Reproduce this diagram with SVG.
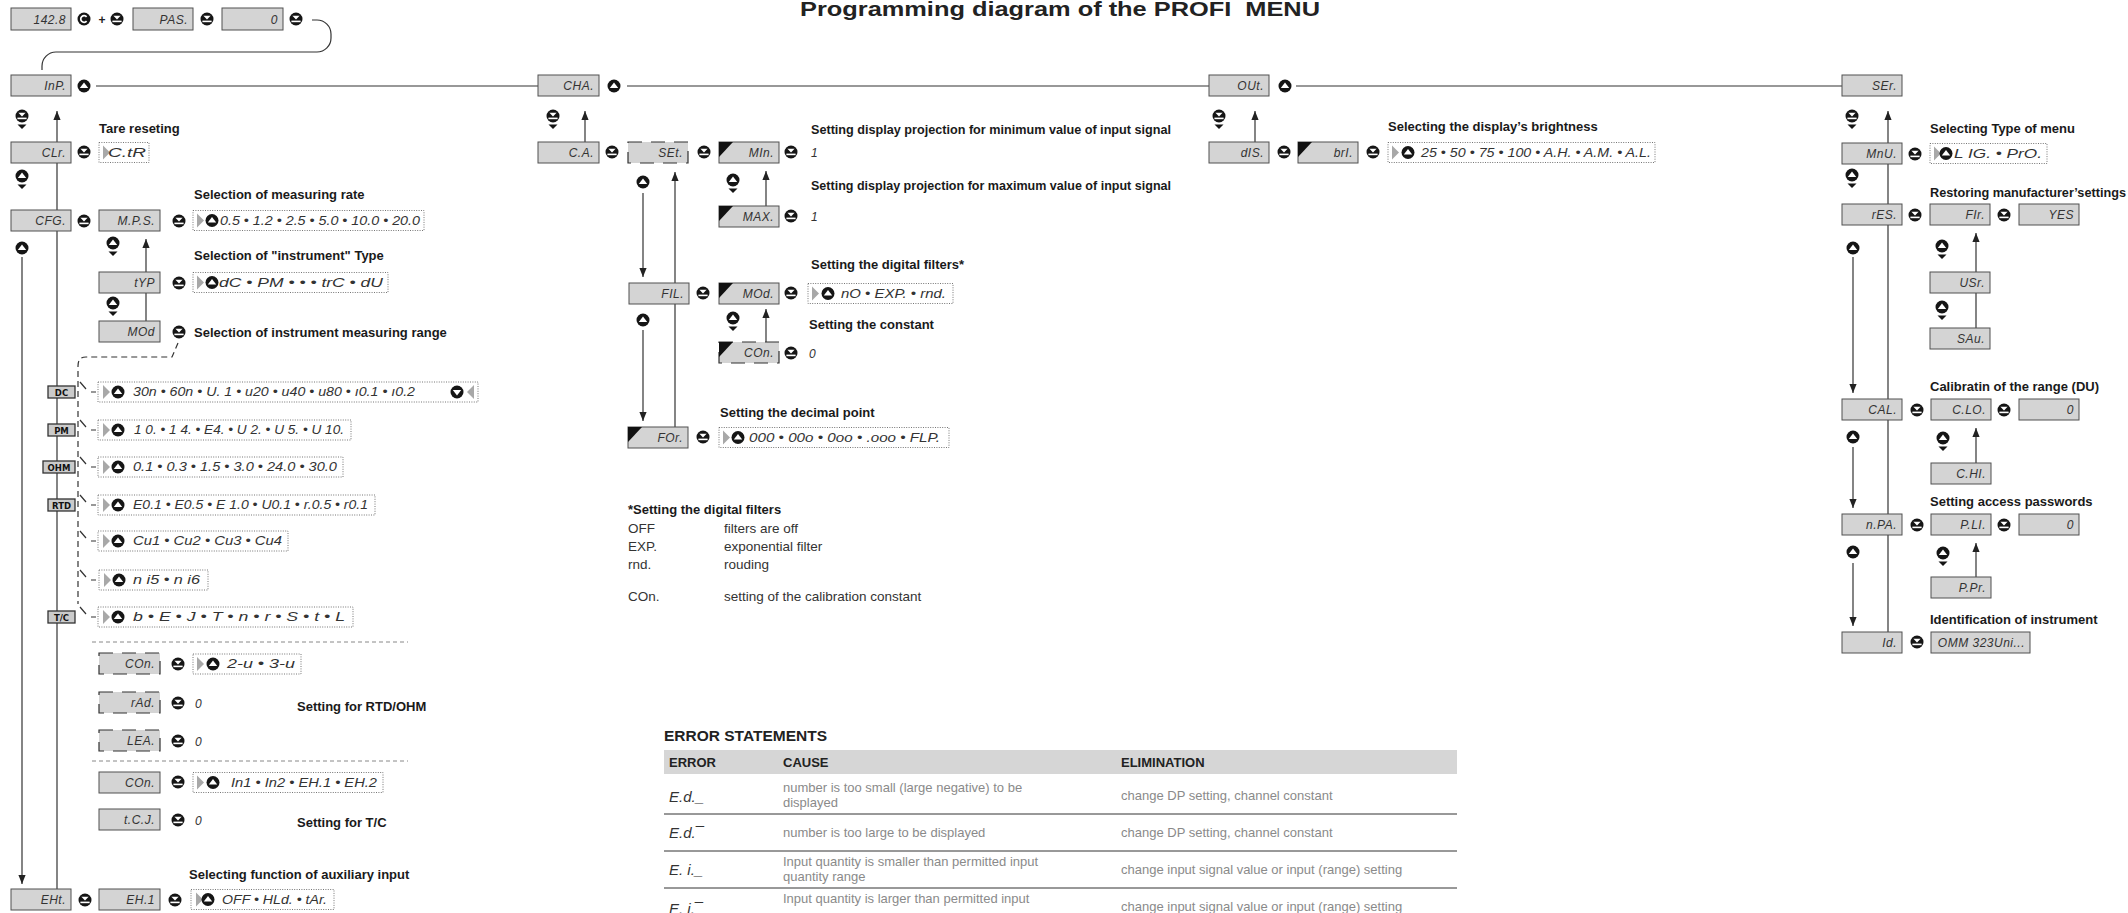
<svg xmlns="http://www.w3.org/2000/svg" xmlns:xlink="http://www.w3.org/1999/xlink" width="2128" height="913" viewBox="0 0 2128 913">
<style>
.bx{fill:#d4d4d4;stroke:#505050;stroke-width:1}
.dx{fill:#d4d4d4;stroke:#303030;stroke-width:1.2;stroke-dasharray:14 9}
.op{fill:#fff;stroke:#666;stroke-width:0.9;stroke-dasharray:1 1.4}
.sg{font-family:"Liberation Sans",Arial,sans-serif;font-style:italic;font-size:12px;fill:#333;text-anchor:end;letter-spacing:0.5px}
.ot{font-family:"Liberation Sans",Arial,sans-serif;font-style:italic;font-size:12px;fill:#333}
.lb{font-family:"Liberation Sans",Arial,sans-serif;font-weight:bold;font-size:13px;fill:#1a1a1a}
.nt{font-family:"Liberation Sans",Arial,sans-serif;font-size:13.5px;fill:#333}
.ln{stroke:#333;stroke-width:1.2;fill:none}
.dl{stroke:#333;stroke-width:1.2;fill:none;stroke-dasharray:6 4}
.sep{stroke:#888;stroke-width:1;stroke-dasharray:4 3;fill:none}
.tg{fill:#cbcbcb;stroke:#333;stroke-width:1.3}
.tgt{font-family:"DejaVu Sans",sans-serif;font-weight:bold;font-size:8.5px;fill:#111;text-anchor:middle}
.th{font-family:"Liberation Sans",Arial,sans-serif;font-weight:bold;font-size:13px;fill:#222}
.td{font-family:"Liberation Sans",Arial,sans-serif;font-size:13px;fill:#8a8a8a}
.ec{font-family:"Liberation Sans",Arial,sans-serif;font-style:italic;font-size:15px;fill:#333}
</style>
<defs>
<marker id="ar" viewBox="0 0 10 10" refX="10" refY="5" markerWidth="9" markerHeight="9" markerUnits="userSpaceOnUse" orient="auto"><path d="M0,1 L10,5 L0,9 z" fill="#222"/></marker>
<g id="up"><circle r="6.5" fill="#151515"/><path d="M0,-3.4 L4.2,1.9 L-4.2,1.9 Z" fill="#fff"/></g>
<g id="ent"><circle r="6.5" fill="#151515"/><path d="M-3.6,-3.2 L3.6,-3.2 L0,0.6 Z" fill="#fff"/><rect x="-4.6" y="1.6" width="9.2" height="1.6" fill="#fff"/></g>
<g id="dn"><circle r="6.5" fill="#151515"/><path d="M-4.2,-1.9 L4.2,-1.9 L0,3.4 Z" fill="#fff"/></g>
<g id="upA"><use href="#up"/><path d="M-4.5,8.5 L4.5,8.5 L0,13 Z" fill="#151515"/></g>
<g id="entA"><use href="#ent"/><path d="M-4.5,8.5 L4.5,8.5 L0,13 Z" fill="#151515"/></g>
<g id="ring"><circle r="6.5" fill="#151515"/><path d="M2.6,-2.1 A3.3,3.3 0 1 0 2.6,2.1" stroke="#fff" stroke-width="1.7" fill="none"/></g>
<path id="gt" d="M0,-7 L7,0 L0,7 Z" fill="#a8a8a8"/>
<path id="cn" d="M0,0 H14 L0,15 Z" fill="#111"/>
</defs>
<rect width="2128" height="913" fill="#fff"/>

<text x="1060" y="16" text-anchor="middle" xml:space="preserve" style="font-family:'Liberation Sans',Arial,sans-serif;font-weight:bold;font-size:21px;fill:#222" textLength="520" lengthAdjust="spacingAndGlyphs">Programming diagram of the PROFI  MENU</text>

<g id="connectors">
<path class="ln" d="M312,20 H317 A14,14 0 0 1 331,34 V38 A14,14 0 0 1 317,52 H56 A14,14 0 0 0 42,66 V70"/>
<path class="ln" d="M96,86 H538"/>
<path class="ln" d="M627,86 H1209"/>
<path class="ln" d="M1296,86 H1842"/>
<path class="ln" d="M57,889 V111" marker-end="url(#ar)"/>
<path class="ln" d="M22,257 V884" marker-end="url(#ar)"/>
<path class="ln" d="M146,321 V239" marker-end="url(#ar)"/>
<path class="dl" d="M178,343 L172,357 H86 Q78,357 78,366 V604"/>
<path class="ln" d="M80,382 L86,389 M91,392 H96"/>
<path class="ln" d="M80,420 L86,427 M91,430 H96"/>
<path class="ln" d="M80,457 L86,464 M91,467 H96"/>
<path class="ln" d="M80,495 L86,502 M91,505 H96"/>
<path class="ln" d="M80,531 L86,538 M91,541 H96"/>
<path class="ln" d="M80,570 L86,577 M91,580 H96"/>
<path class="ln" d="M80,607 L86,614 M91,617 H96"/>
<path class="sep" d="M92,642 H408"/>
<path class="sep" d="M92,761 H408"/>
<path class="ln" d="M585,142 V111" marker-end="url(#ar)"/>
<path class="ln" d="M643,193 V277" marker-end="url(#ar)"/>
<path class="ln" d="M643,330 V421" marker-end="url(#ar)"/>
<path class="ln" d="M675,427 V172" marker-end="url(#ar)"/>
<path class="ln" d="M766,206 V171" marker-end="url(#ar)"/>
<path class="ln" d="M766,342 V309" marker-end="url(#ar)"/>
<path class="ln" d="M1255,142 V111" marker-end="url(#ar)"/>
<path class="ln" d="M1888,632 V111" marker-end="url(#ar)"/>
<path class="ln" d="M1853,257 V393" marker-end="url(#ar)"/>
<path class="ln" d="M1853,447 V508" marker-end="url(#ar)"/>
<path class="ln" d="M1853,563 V626" marker-end="url(#ar)"/>
<path class="ln" d="M1976,328 V233" marker-end="url(#ar)"/>
<path class="ln" d="M1976,463 V428" marker-end="url(#ar)"/>
<path class="ln" d="M1976,577 V543" marker-end="url(#ar)"/>
</g>

<!-- top entry -->
<g id="n-init"><rect class="bx" x="11" y="8" width="60" height="22"/><text class="sg" x="66" y="23.5">142.8</text></g>
<g id="b-combo"><use href="#ring" x="84" y="19"/><text x="102" y="23.5" text-anchor="middle" style="font-family:'Liberation Sans',sans-serif;font-weight:bold;font-size:12px;fill:#222">+</text><use href="#ent" x="117" y="19"/></g>
<g id="n-pas"><rect class="bx" x="133" y="8" width="60" height="22"/><text class="sg" x="188" y="23.5">PAS.</text><use href="#ent" x="207" y="19"/></g>
<g id="n-pw"><rect class="bx" x="222" y="8" width="61" height="22"/><text class="sg" x="278" y="23.5">0</text><use href="#ent" x="296" y="19"/></g>

<!-- main row -->
<g id="n-inp"><rect class="bx" x="11" y="75" width="60" height="21"/><text class="sg" x="66" y="90">InP.</text><use href="#up" x="84" y="86"/></g>
<g id="n-cha"><rect class="bx" x="538" y="75" width="61" height="21"/><text class="sg" x="594" y="90">CHA.</text><use href="#up" x="614" y="86"/></g>
<g id="n-out"><rect class="bx" x="1209" y="75" width="60" height="21"/><text class="sg" x="1264" y="90">OUt.</text><use href="#up" x="1285" y="86"/></g>
<g id="n-ser"><rect class="bx" x="1842" y="75" width="60" height="21"/><text class="sg" x="1897" y="90">SEr.</text></g>

<!-- INP column -->
<use href="#entA" x="22" y="116"/>
<text class="lb" x="99" y="133">Tare reseting</text>
<g id="n-clr"><rect class="bx" x="11" y="142" width="60" height="21"/><text class="sg" x="66" y="157">CLr.</text><use href="#ent" x="84" y="152"/></g>
<g id="o-ctr"><rect class="op" x="99" y="142.5" width="50" height="20"/><use href="#gt" x="103" y="152.5"/><text class="ot" x="108" y="157" textLength="38" lengthAdjust="spacingAndGlyphs">C.tR</text></g>
<use href="#upA" x="22" y="176"/>
<text class="lb" x="194" y="199">Selection of measuring rate</text>
<g id="n-cfg"><rect class="bx" x="11" y="210" width="60" height="21"/><text class="sg" x="66" y="225">CFG.</text><use href="#ent" x="84" y="221"/></g>
<g id="n-mps"><rect class="bx" x="99" y="210" width="61" height="21"/><text class="sg" x="155" y="225">M.P.S.</text><use href="#ent" x="179" y="221"/></g>
<g id="o-mps"><rect class="op" x="193" y="210.5" width="231" height="20"/><use href="#gt" x="197" y="220.5"/><use href="#up" x="212" y="220.5"/><text class="ot" x="220" y="225" textLength="200" lengthAdjust="spacingAndGlyphs">0.5 • 1.2 • 2.5 • 5.0 • 10.0 • 20.0</text></g>
<use href="#up" x="22" y="248"/>
<use href="#upA" x="113" y="243"/>
<text class="lb" x="194" y="260">Selection of "instrument" Type</text>
<g id="n-typ"><rect class="bx" x="99" y="272" width="61" height="21"/><text class="sg" x="155" y="287">tYP</text><use href="#ent" x="179" y="283"/></g>
<g id="o-typ"><rect class="op" x="193" y="272.5" width="195" height="20"/><use href="#gt" x="197" y="282.5"/><use href="#up" x="212" y="282.5"/><text class="ot" x="219" y="287" textLength="164" lengthAdjust="spacingAndGlyphs">dC • PM • • • trC • dU</text></g>
<use href="#upA" x="113" y="303"/>
<g id="n-mod"><rect class="bx" x="99" y="321" width="61" height="21"/><text class="sg" x="155" y="336">MOd</text><use href="#ent" x="179" y="332"/></g>
<text class="lb" x="194" y="337">Selection of instrument measuring range</text>

<g id="r-dc"><rect class="tg" x="48" y="386" width="27" height="12"/><text class="tgt" x="61.5" y="395.5">DC</text><rect class="op" x="98" y="382" width="380" height="20"/><use href="#gt" x="103" y="392"/><use href="#up" x="118" y="392"/><text class="ot" x="133" y="396" textLength="282" lengthAdjust="spacingAndGlyphs">30n • 60n • U. 1 • u20 • u40 • u80 • ı0.1 • ı0.2</text><use href="#dn" x="457" y="392"/><path d="M474,385 L467,392 L474,399 Z" fill="#a8a8a8"/></g>
<g id="r-pm"><rect class="tg" x="48" y="424" width="27" height="12"/><text class="tgt" x="61.5" y="433.5">PM</text><rect class="op" x="98" y="420" width="253" height="20"/><use href="#gt" x="103" y="430"/><use href="#up" x="118" y="430"/><text class="ot" x="134" y="434" textLength="210" lengthAdjust="spacingAndGlyphs">1 0. • 1 4. • E4. • U 2. • U 5. • U 10.</text></g>
<g id="r-ohm"><rect class="tg" x="43" y="461" width="32" height="12"/><text class="tgt" x="59" y="470.5">OHM</text><rect class="op" x="98" y="457" width="245" height="20"/><use href="#gt" x="103" y="467"/><use href="#up" x="118" y="467"/><text class="ot" x="133" y="471" textLength="204" lengthAdjust="spacingAndGlyphs">0.1 • 0.3 • 1.5 • 3.0 • 24.0 • 30.0</text></g>
<g id="r-rtd"><rect class="tg" x="48" y="499" width="27" height="12"/><text class="tgt" x="61.5" y="508.5">RTD</text><rect class="op" x="98" y="495" width="277" height="20"/><use href="#gt" x="103" y="505"/><use href="#up" x="118" y="505"/><text class="ot" x="133" y="509" textLength="235" lengthAdjust="spacingAndGlyphs">E0.1 • E0.5 • E 1.0 • U0.1 • r.0.5 • r0.1</text></g>
<g id="r-cu"><rect class="op" x="98" y="531" width="190" height="20"/><use href="#gt" x="103" y="541"/><use href="#up" x="118" y="541"/><text class="ot" x="133" y="545" textLength="149" lengthAdjust="spacingAndGlyphs">Cu1 • Cu2 • Cu3 • Cu4</text></g>
<g id="r-ni"><rect class="op" x="99" y="570" width="109" height="20"/><use href="#gt" x="104" y="580"/><use href="#up" x="119" y="580"/><text class="ot" x="133" y="584" textLength="67" lengthAdjust="spacingAndGlyphs">n i5 • n i6</text></g>
<g id="r-tc"><rect class="tg" x="48" y="611" width="27" height="12"/><text class="tgt" x="61.5" y="620.5">T/C</text><rect class="op" x="98" y="607" width="255" height="20"/><use href="#gt" x="103" y="617"/><use href="#up" x="118" y="617"/><text class="ot" x="133" y="621" textLength="212" lengthAdjust="spacingAndGlyphs">b • E • J • T • n • r • S • t • L</text></g>

<g id="n-con1"><rect class="dx" x="99" y="653" width="61" height="21"/><text class="sg" x="155" y="668">COn.</text><use href="#ent" x="178" y="664"/></g>
<g id="o-con1"><rect class="op" x="193" y="654" width="108" height="20"/><use href="#gt" x="197" y="664"/><use href="#up" x="213" y="664"/><text class="ot" x="227" y="668" textLength="68" lengthAdjust="spacingAndGlyphs">2-u • 3-u</text></g>
<g id="n-rad"><rect class="dx" x="99" y="692" width="61" height="21"/><text class="sg" x="155" y="707">rAd.</text><use href="#ent" x="178" y="703"/><text class="ot" x="195" y="708">0</text></g>
<text class="lb" x="297" y="711">Setting for RTD/OHM</text>
<g id="n-lea"><rect class="dx" x="99" y="730" width="61" height="21"/><text class="sg" x="155" y="745">LEA.</text><use href="#ent" x="178" y="741"/><text class="ot" x="195" y="746">0</text></g>
<g id="n-con2"><rect class="bx" x="99" y="772" width="61" height="21"/><text class="sg" x="155" y="787">COn.</text><use href="#ent" x="178" y="782"/></g>
<g id="o-con2"><rect class="op" x="193" y="772.5" width="190" height="20"/><use href="#gt" x="197" y="782.5"/><use href="#up" x="213" y="782.5"/><text class="ot" x="231" y="787" textLength="146" lengthAdjust="spacingAndGlyphs">In1 • In2 • EH.1 • EH.2</text></g>
<g id="n-tcj"><rect class="bx" x="99" y="809" width="61" height="21"/><text class="sg" x="155" y="824">t.C.J.</text><use href="#ent" x="178" y="820"/><text class="ot" x="195" y="825">0</text></g>
<text class="lb" x="297" y="827">Setting for T/C</text>
<text class="lb" x="189" y="879">Selecting function of auxiliary input</text>
<g id="n-eht"><rect class="bx" x="11" y="889" width="60" height="21"/><text class="sg" x="66" y="904">EHt.</text><use href="#ent" x="85" y="900"/></g>
<g id="n-eh1"><rect class="bx" x="99" y="889" width="61" height="21"/><text class="sg" x="155" y="904">EH.1</text><use href="#ent" x="175" y="900"/></g>
<g id="o-eh1"><rect class="op" x="191" y="889.5" width="143" height="20"/><use href="#gt" x="196" y="899.5"/><use href="#up" x="208" y="899.5"/><text class="ot" x="222" y="904" textLength="105" lengthAdjust="spacingAndGlyphs">OFF • HLd. • tAr.</text></g>

<!-- CHA column -->
<use href="#entA" x="553" y="116"/>
<text class="lb" x="811" y="134" textLength="360" lengthAdjust="spacingAndGlyphs">Setting display projection for minimum value of input signal</text>
<g id="n-ca"><rect class="bx" x="538" y="142" width="61" height="21"/><text class="sg" x="594" y="157">C.A.</text><use href="#ent" x="612" y="152"/></g>
<g id="n-set"><rect class="dx" x="628" y="142" width="60" height="21"/><text class="sg" x="683" y="157">SEt.</text><use href="#ent" x="704" y="152"/></g>
<g id="n-min"><rect class="bx" x="719" y="142" width="60" height="21"/><use href="#cn" x="719" y="142"/><text class="sg" x="774" y="157">MIn.</text><use href="#ent" x="791" y="152"/><text class="ot" x="811" y="157">1</text></g>
<use href="#up" x="643" y="182"/>
<use href="#upA" x="733" y="180"/>
<text class="lb" x="811" y="190" textLength="360" lengthAdjust="spacingAndGlyphs">Setting display projection for maximum value of input signal</text>
<g id="n-max"><rect class="bx" x="719" y="206" width="60" height="21"/><use href="#cn" x="719" y="206"/><text class="sg" x="774" y="221">MAX.</text><use href="#ent" x="791" y="216"/><text class="ot" x="811" y="221">1</text></g>
<text class="lb" x="811" y="269">Setting the digital filters*</text>
<g id="n-fil"><rect class="bx" x="629" y="283" width="60" height="21"/><text class="sg" x="684" y="298">FIL.</text><use href="#ent" x="703" y="293"/></g>
<g id="n-fmod"><rect class="bx" x="719" y="283" width="60" height="21"/><use href="#cn" x="719" y="283"/><text class="sg" x="774" y="298">MOd.</text><use href="#ent" x="791" y="293"/></g>
<g id="o-fmod"><rect class="op" x="808" y="283.5" width="145" height="20"/><use href="#gt" x="812" y="293.5"/><use href="#up" x="828" y="293.5"/><text class="ot" x="841" y="298" textLength="105" lengthAdjust="spacingAndGlyphs">nO • EXP. • rnd.</text></g>
<use href="#up" x="643" y="320"/>
<use href="#upA" x="733" y="318"/>
<text class="lb" x="809" y="329">Setting the constant</text>
<g id="n-ccon"><rect class="dx" x="719" y="342" width="60" height="21"/><use href="#cn" x="719" y="342"/><text class="sg" x="774" y="357">COn.</text><use href="#ent" x="791" y="353"/><text class="ot" x="809" y="358">0</text></g>
<text class="lb" x="720" y="417">Setting the decimal point</text>
<g id="n-for"><rect class="bx" x="628" y="427" width="60" height="21"/><use href="#cn" x="628" y="427"/><text class="sg" x="683" y="442">FOr.</text><use href="#ent" x="703" y="437"/></g>
<g id="o-for"><rect class="op" x="719" y="427.5" width="230" height="20"/><use href="#gt" x="723" y="437.5"/><use href="#up" x="738" y="437.5"/><text class="ot" x="749" y="442" textLength="191" lengthAdjust="spacingAndGlyphs">000 • 00o • 0oo • .ooo • FLP.</text></g>

<g id="note">
<text class="lb" x="628" y="514">*Setting the digital filters</text>
<text class="nt" x="628" y="533">OFF</text><text class="nt" x="724" y="533">filters are off</text>
<text class="nt" x="628" y="551">EXP.</text><text class="nt" x="724" y="551">exponential filter</text>
<text class="nt" x="628" y="569">rnd.</text><text class="nt" x="724" y="569">rouding</text>
<text class="nt" x="628" y="601">COn.</text><text class="nt" x="724" y="601">setting of the calibration constant</text>
</g>

<!-- OUT column -->
<use href="#entA" x="1219" y="116"/>
<text class="lb" x="1388" y="131">Selecting the display’s brightness</text>
<g id="n-dis"><rect class="bx" x="1209" y="142" width="60" height="21"/><text class="sg" x="1264" y="157">dIS.</text><use href="#ent" x="1284" y="152"/></g>
<g id="n-bri"><rect class="bx" x="1298" y="142" width="60" height="21"/><use href="#cn" x="1298" y="142"/><text class="sg" x="1353" y="157">brI.</text><use href="#ent" x="1373" y="152"/></g>
<g id="o-bri"><rect class="op" x="1388" y="142.5" width="267" height="20"/><use href="#gt" x="1392" y="152.5"/><use href="#up" x="1408" y="152.5"/><text class="ot" x="1421" y="157" textLength="230" lengthAdjust="spacingAndGlyphs">25 • 50 • 75 • 100 • A.H. • A.M. • A.L.</text></g>

<!-- SER column -->
<use href="#entA" x="1852" y="116"/>
<text class="lb" x="1930" y="133">Selecting Type of menu</text>
<g id="n-mnu"><rect class="bx" x="1842" y="143" width="60" height="21"/><text class="sg" x="1897" y="158">MnU.</text><use href="#ent" x="1915" y="154"/></g>
<g id="o-mnu"><rect class="op" x="1930" y="143.5" width="117" height="20"/><use href="#gt" x="1934" y="153.5"/><use href="#up" x="1946" y="153.5"/><text class="ot" x="1954" y="158" textLength="88" lengthAdjust="spacingAndGlyphs">L IG. • PrO.</text></g>
<use href="#upA" x="1852" y="175"/>
<text class="lb" x="1930" y="197" textLength="196" lengthAdjust="spacingAndGlyphs">Restoring manufacturer’settings</text>
<g id="n-res"><rect class="bx" x="1842" y="204" width="60" height="21"/><text class="sg" x="1897" y="219">rES.</text><use href="#ent" x="1915" y="215"/></g>
<g id="n-fir"><rect class="bx" x="1930" y="204" width="60" height="21"/><text class="sg" x="1985" y="219">FIr.</text><use href="#ent" x="2004" y="215"/></g>
<g id="n-yes"><rect class="bx" x="2019" y="204" width="60" height="21"/><text class="sg" x="2074" y="219">YES</text></g>
<use href="#up" x="1853" y="248"/>
<use href="#upA" x="1942" y="246"/>
<g id="n-usr"><rect class="bx" x="1930" y="272" width="60" height="21"/><text class="sg" x="1985" y="287">USr.</text></g>
<use href="#upA" x="1942" y="307"/>
<g id="n-sav"><rect class="bx" x="1930" y="328" width="60" height="21"/><text class="sg" x="1985" y="343">SAu.</text></g>
<text class="lb" x="1930" y="391">Calibratin of the range (DU)</text>
<g id="n-cal"><rect class="bx" x="1842" y="399" width="60" height="21"/><text class="sg" x="1897" y="414">CAL.</text><use href="#ent" x="1917" y="410"/></g>
<g id="n-clo"><rect class="bx" x="1931" y="399" width="60" height="21"/><text class="sg" x="1986" y="414">C.LO.</text><use href="#ent" x="2004" y="410"/></g>
<g id="n-cal0"><rect class="bx" x="2019" y="399" width="60" height="21"/><text class="sg" x="2074" y="414">0</text></g>
<use href="#up" x="1853" y="437"/>
<use href="#upA" x="1943" y="438"/>
<g id="n-chi"><rect class="bx" x="1931" y="463" width="60" height="21"/><text class="sg" x="1986" y="478">C.HI.</text></g>
<text class="lb" x="1930" y="506">Setting access passwords</text>
<g id="n-npa"><rect class="bx" x="1842" y="514" width="60" height="21"/><text class="sg" x="1897" y="529">n.PA.</text><use href="#ent" x="1917" y="525"/></g>
<g id="n-pli"><rect class="bx" x="1931" y="514" width="60" height="21"/><text class="sg" x="1986" y="529">P.LI.</text><use href="#ent" x="2004" y="525"/></g>
<g id="n-pli0"><rect class="bx" x="2019" y="514" width="60" height="21"/><text class="sg" x="2074" y="529">0</text></g>
<use href="#up" x="1853" y="552"/>
<use href="#upA" x="1943" y="553"/>
<g id="n-ppr"><rect class="bx" x="1931" y="577" width="60" height="21"/><text class="sg" x="1986" y="592">P.Pr.</text></g>
<text class="lb" x="1930" y="624">Identification of instrument</text>
<g id="n-id"><rect class="bx" x="1842" y="632" width="60" height="21"/><text class="sg" x="1897" y="647">Id.</text><use href="#ent" x="1917" y="642"/></g>
<g id="n-ident"><rect class="bx" x="1931" y="632" width="99" height="21"/><text class="sg" x="2025" y="647">OMM 323Uni...</text></g>

<!-- error table -->
<g id="errors">
<text x="664" y="741" style="font-family:'Liberation Sans',Arial,sans-serif;font-weight:bold;font-size:15.5px;fill:#222">ERROR STATEMENTS</text>
<rect x="664" y="750" width="793" height="24" fill="#d6d6d6"/>
<text class="th" x="669" y="767">ERROR</text>
<text class="th" x="783" y="767">CAUSE</text>
<text class="th" x="1121" y="767">ELIMINATION</text>
<text class="ec" x="669" y="802">E.d._</text>
<text class="td" x="783" y="792">number is too small (large negative) to be</text>
<text class="td" x="783" y="807">displayed</text>
<text class="td" x="1121" y="800">change DP setting, channel constant</text>
<line x1="664" y1="814" x2="1457" y2="814" stroke="#333" stroke-width="1"/>
<text class="ec" x="669" y="838">E.d.¯</text>
<text class="td" x="783" y="837">number is too large to be displayed</text>
<text class="td" x="1121" y="837">change DP setting, channel constant</text>
<line x1="664" y1="851" x2="1457" y2="851" stroke="#333" stroke-width="1"/>
<text class="ec" x="669" y="875">E. i._</text>
<text class="td" x="783" y="866">Input quantity is smaller than permitted input</text>
<text class="td" x="783" y="881">quantity range</text>
<text class="td" x="1121" y="874">change input signal value or input (range) setting</text>
<line x1="664" y1="888" x2="1457" y2="888" stroke="#333" stroke-width="1"/>
<text class="ec" x="669" y="914">E. i.¯</text>
<text class="td" x="783" y="903">Input quantity is larger than permitted input</text>
<text class="td" x="1121" y="911">change input signal value or input (range) setting</text>
</g>
</svg>
